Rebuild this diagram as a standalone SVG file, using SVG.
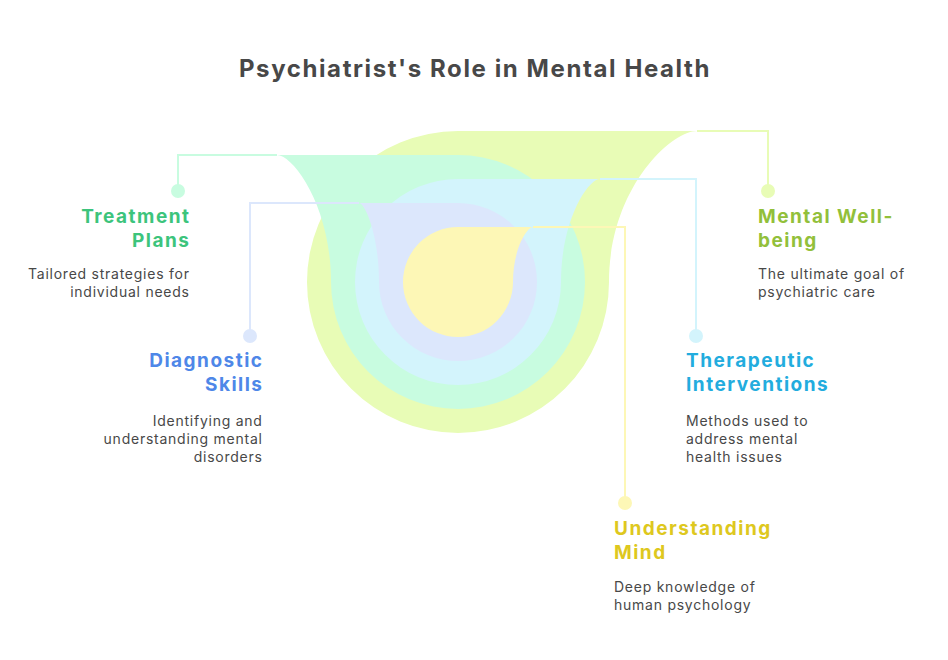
<svg xmlns="http://www.w3.org/2000/svg" width="948" height="660" viewBox="0 0 948 660">
<style>
.title{font-family:"Inter","Liberation Sans",sans-serif;font-weight:700;font-size:24px;letter-spacing:1.6px;fill:#484848}
.lbl{font-family:"Inter","Liberation Sans",sans-serif;font-weight:700;font-size:19px;letter-spacing:1.5px}
.desc{font-family:"Inter","Liberation Sans",sans-serif;font-size:14px;letter-spacing:0.75px;fill:#484848}
.r{text-anchor:end}
.conn{fill:none;stroke-width:2}
</style>
<rect width="948" height="660" fill="#ffffff"/>
<text class="title" x="475" y="77" text-anchor="middle">Psychiatrist's Role in Mental Health</text>

<g id="shapes">
<path id="shape-wellbeing" d="M458,131 L697,131 C670,131 609,190 609,282 A151,151 0 1 1 458,131 Z" fill="#E8FCB6"/>
<path id="shape-treatment" d="M458,155 L277,155 C293,155 331,206 331,282 A127,127 0 1 0 458,155 Z" fill="#C8FCE0"/>
<path id="shape-therapeutic" d="M458,179 L600,179 C588,179 561,220 561,282 A103,103 0 1 1 458,179 Z" fill="#D3F4FC"/>
<path id="shape-diagnostic" d="M458,203 L359,203 C365,203 379,235 379,282 A79,79 0 1 0 458,203 Z" fill="#DCE7FC"/>
<path id="shape-understanding" d="M458,227 L533,227 C527,227 513,249 513,282 A55,55 0 1 1 458,227 Z" fill="#FDF7B6"/>
</g>

<g id="connectors">
<path class="conn" d="M697,131 H768 V191" stroke="#E8FCB6"/>
<path class="conn" d="M277,155 H178 V191" stroke="#C8FCE0"/>
<path class="conn" d="M600,179 H696 V336" stroke="#D3F4FC"/>
<path class="conn" d="M359,203 H250 V336" stroke="#DCE7FC"/>
<path class="conn" d="M533,227 H625 V503" stroke="#FDF7B6"/>
<circle cx="768" cy="191" r="7" fill="#E8FCB6"/>
<circle cx="178" cy="191" r="7" fill="#C8FCE0"/>
<circle cx="696" cy="336" r="7" fill="#D3F4FC"/>
<circle cx="250" cy="336" r="7" fill="#DCE7FC"/>
<circle cx="625" cy="503" r="7" fill="#FDF7B6"/>
</g>

<g id="node-treatment">
<text class="lbl r" x="190.5" y="223" fill="#3CC47C">Treatment</text>
<text class="lbl r" x="190.5" y="247" fill="#3CC47C">Plans</text>
<text class="desc r" x="189.7" y="279">Tailored strategies for</text>
<text class="desc r" x="189.7" y="297">individual needs</text>
</g>

<g id="node-diagnostic">
<text class="lbl r" x="263.5" y="367" fill="#4E87E8">Diagnostic</text>
<text class="lbl r" x="263.5" y="391" fill="#4E87E8">Skills</text>
<text class="desc r" x="262.7" y="426">Identifying and</text>
<text class="desc r" x="262.7" y="444">understanding mental</text>
<text class="desc r" x="262.7" y="462">disorders</text>
</g>

<g id="node-wellbeing">
<text class="lbl" x="758" y="223" fill="#92C03A">Mental Well-</text>
<text class="lbl" x="758" y="247" fill="#92C03A">being</text>
<text class="desc" x="758" y="279">The ultimate goal of</text>
<text class="desc" x="758" y="297">psychiatric care</text>
</g>

<g id="node-therapeutic">
<text class="lbl" x="686" y="367" fill="#22ACDE">Therapeutic</text>
<text class="lbl" x="686" y="391" fill="#22ACDE">Interventions</text>
<text class="desc" x="686" y="426">Methods used to</text>
<text class="desc" x="686" y="444">address mental</text>
<text class="desc" x="686" y="462">health issues</text>
</g>

<g id="node-understanding">
<text class="lbl" x="614" y="535" fill="#DEC81E">Understanding</text>
<text class="lbl" x="614" y="559" fill="#DEC81E">Mind</text>
<text class="desc" x="614" y="592">Deep knowledge of</text>
<text class="desc" x="614" y="610">human psychology</text>
</g>
</svg>
